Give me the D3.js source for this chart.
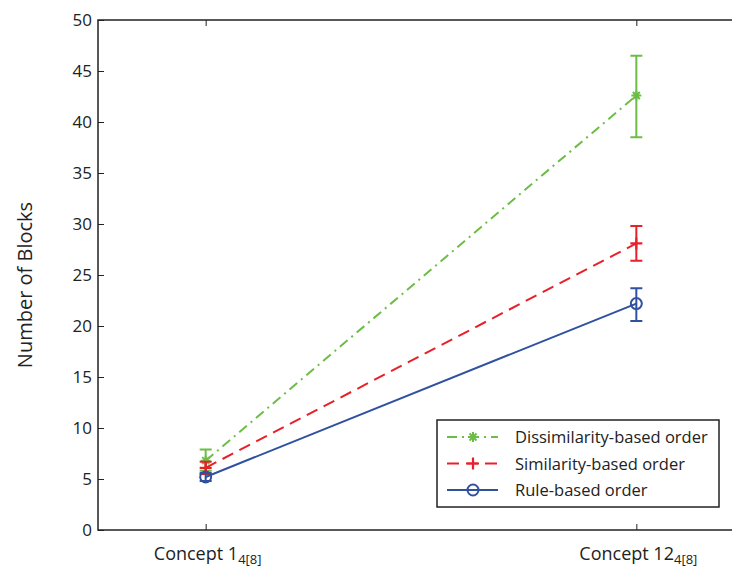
<!DOCTYPE html>
<html><head><meta charset="utf-8">
<script src="https://cdn.jsdelivr.net/npm/d3@7"></script>
<style>body{margin:0;background:#fff}svg{display:block}text{font-family:"Open Sans","Noto Sans",sans-serif;fill:#222}</style>
</head><body><svg id="c" width="732" height="569"></svg>
<script>
const categories = ["Concept 1", "Concept 12"];
const subscripts = ["4[8]", "4[8]"];
const seriesNames = ["Dissimilarity-based order", "Similarity-based order", "Rule-based order"];
const dissimMean = [6.8, 42.6];
const dissimLow  = [5.8, 38.5];
const dissimHigh = [7.9, 46.5];
const simMean = [6.1, 28.1];
const simLow  = [5.5, 26.4];
const simHigh = [6.7, 29.8];
const ruleMean = [5.2, 22.2];
const ruleLow  = [4.8, 20.5];
const ruleHigh = [5.6, 23.7];
const yTicks = [0,5,10,15,20,25,30,35,40,45,50];

const series = [
  {name: seriesNames[0], mean: dissimMean, lo: dissimLow, hi: dissimHigh, color: "#6cbd45", dash: "10,5,2,5", marker: "star"},
  {name: seriesNames[1], mean: simMean, lo: simLow, hi: simHigh, color: "#e8202a", dash: "12,7", marker: "plus"},
  {name: seriesNames[2], mean: ruleMean, lo: ruleLow, hi: ruleHigh, color: "#3050a0", dash: null, marker: "circle"}
];

const svg = d3.select("#c");
const L = 98, R = 744, T = 20, B = 530;
const x = d3.scaleLinear().domain([0.75, 2.25]).range([L, R]);
const y = d3.scaleLinear().domain([0, 50]).range([B, T]);

svg.append("rect").attr("x", L).attr("y", T).attr("width", R - L).attr("height", B - T)
  .attr("fill", "none").attr("stroke", "#222").attr("stroke-width", 1.5);

const yAx = svg.append("g").attr("transform", `translate(${L},0)`)
  .call(d3.axisRight(y).tickValues(yTicks).tickSize(6).tickFormat(""));
yAx.select(".domain").remove();
yAx.selectAll("line").attr("stroke", "#222");
svg.append("g").selectAll("text").data(yTicks).join("text")
  .attr("x", L - 6).attr("y", d => y(d) + 6).attr("text-anchor", "end")
  .attr("font-size", 17).text(d => d);

const xa = svg.append("g").attr("transform", `translate(0,${B})`)
  .call(d3.axisTop(x).tickValues([1, 2]).tickSize(6).tickFormat(""));
xa.select(".domain").remove();
xa.selectAll("line").attr("stroke", "#222");
const xt = svg.append("g").attr("transform", `translate(0,${T})`)
  .call(d3.axisBottom(x).tickValues([1, 2]).tickSize(6).tickFormat(""));
xt.select(".domain").remove();
xt.selectAll("line").attr("stroke", "#222");

categories.forEach((c, i) => {
  const t = svg.append("text").attr("x", x(i + 1) + 2).attr("y", 560).attr("text-anchor", "middle").attr("font-size", 18);
  t.append("tspan").text(c);
  t.append("tspan").attr("font-size", 13).attr("dy", 4).text(subscripts[i]);
});

svg.append("text").attr("transform", `translate(32,${(T + B) / 2 + 10}) rotate(-90)`)
  .attr("text-anchor", "middle").attr("font-size", 20).text("Number of Blocks");

function drawMarker(g, m, cx, cy, color) {
  if (m === "circle") {
    g.append("circle").attr("cx", cx).attr("cy", cy).attr("r", 5.5).attr("fill", "none").attr("stroke", color).attr("stroke-width", 2);
  } else if (m === "plus") {
    g.append("path").attr("d", `M${cx-6},${cy}H${cx+6}M${cx},${cy-6}V${cy+6}`).attr("stroke", color).attr("stroke-width", 2.2);
  } else {
    const s = 5;
    let d = `M${cx-s},${cy}H${cx+s}M${cx},${cy-s}V${cy+s}M${cx-s*0.7},${cy-s*0.7}L${cx+s*0.7},${cy+s*0.7}M${cx-s*0.7},${cy+s*0.7}L${cx+s*0.7},${cy-s*0.7}`;
    g.append("path").attr("d", d).attr("stroke", color).attr("stroke-width", 2);
  }
}

const line = d3.line().x((d, i) => x(i + 1)).y(d => y(d));
series.forEach(s => {
  const g = svg.append("g");
  g.append("path").datum(s.mean).attr("d", line).attr("fill", "none")
    .attr("stroke", s.color).attr("stroke-width", 2).attr("stroke-dasharray", s.dash);
  s.mean.forEach((v, i) => {
    const cx = x(i + 1);
    g.append("path").attr("d", `M${cx},${y(s.lo[i])}V${y(s.hi[i])}M${cx-6},${y(s.lo[i])}H${cx+6}M${cx-6},${y(s.hi[i])}H${cx+6}`)
      .attr("stroke", s.color).attr("stroke-width", 2).attr("fill", "none");
    drawMarker(g, s.marker, cx, y(v), s.color);
  });
});

const lg = svg.append("g");
lg.append("rect").attr("x", 437).attr("y", 420).attr("width", 282).attr("height", 87)
  .attr("fill", "#fff").attr("stroke", "#222").attr("stroke-width", 1.5);
series.forEach((s, i) => {
  const ly = 437 + i * 26.5;
  lg.append("line").attr("x1", 447).attr("x2", 498).attr("y1", ly).attr("y2", ly)
    .attr("stroke", s.color).attr("stroke-width", 2).attr("stroke-dasharray", s.dash);
  drawMarker(lg, s.marker, 473, ly, s.color);
  lg.append("text").attr("x", 515).attr("y", ly + 6).attr("font-size", 16.5).text(s.name);
});
</script></body></html>
